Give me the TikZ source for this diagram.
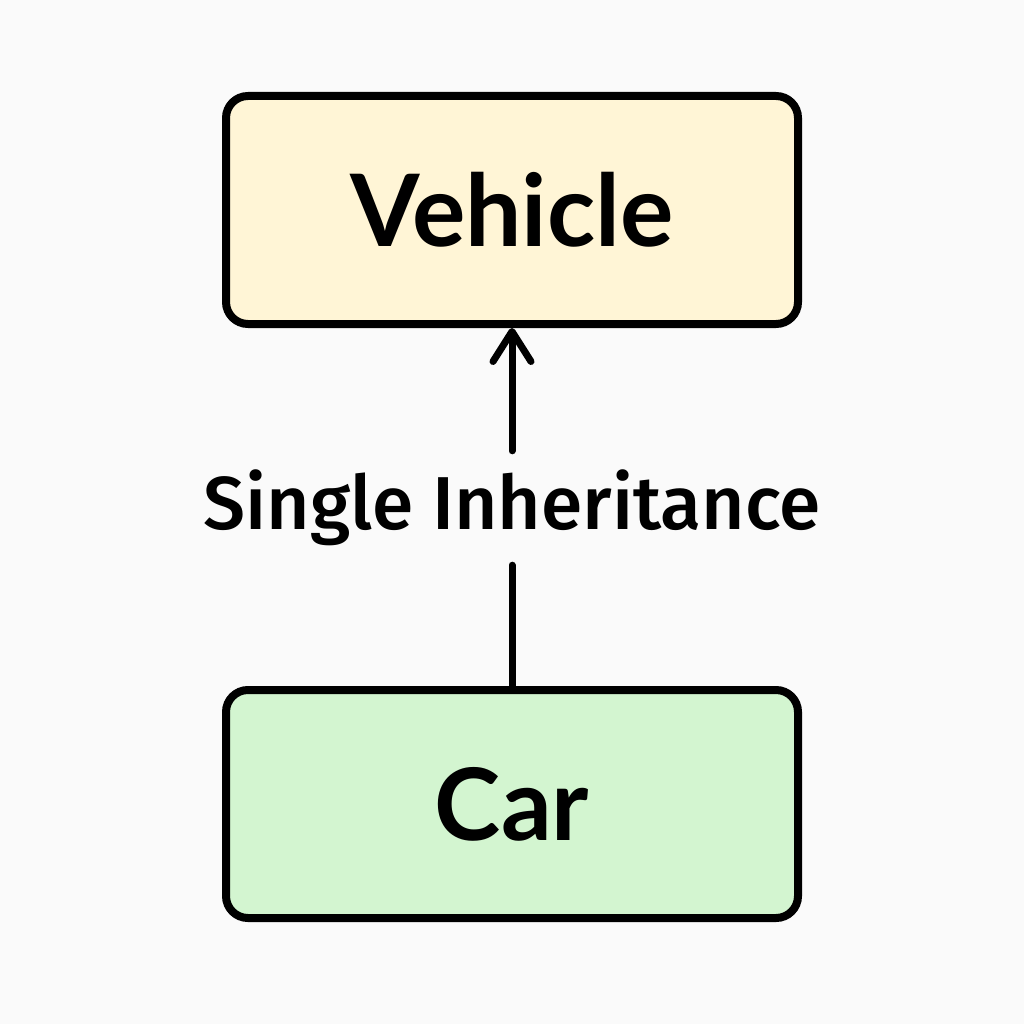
\documentclass[tikz,border=0pt]{standalone}
\usepackage{fontspec}
\setmainfont{Fira Sans}
\newfontfamily\titlefont{Lato}
\newfontfamily\labelfont{Fira Sans Medium}
\usetikzlibrary{arrows.meta}
\definecolor{bg}{HTML}{FAFAFA}
\definecolor{vfill}{HTML}{FFF5D6}
\definecolor{cfill}{HTML}{D3F5D0}
\tikzset{
  classbox/.style={draw=black, line width=8pt, rounded corners=22pt,
    minimum width=572pt, minimum height=228pt, inner sep=0pt,
    font=\titlefont\fontsize{100}{110}\selectfont\bfseries},
  conn/.style={line width=7pt, line cap=round},
}
\begin{document}
\begin{tikzpicture}[x=1pt,y=-1pt]
\fill[bg] (0,0) rectangle (1024,1024);
\useasboundingbox (0,0) rectangle (1024,1024);
\node[classbox, fill=vfill] (vehicle) at (512,210) {Vehicle};
\node[classbox, fill=cfill] (car) at (512,804) {Car};
\node[font=\labelfont\fontsize{75}{85}\selectfont, minimum height=114pt, inner sep=0pt] (lbl) at (512,508) {Single Inheritance};
\draw[conn] (car.north) -- (lbl.south);
\draw[conn, -{Straight Barb[length=30pt,width=38pt,line cap=round,line join=round]}] (lbl.north) -- (vehicle.south);
\end{tikzpicture}
\end{document}
